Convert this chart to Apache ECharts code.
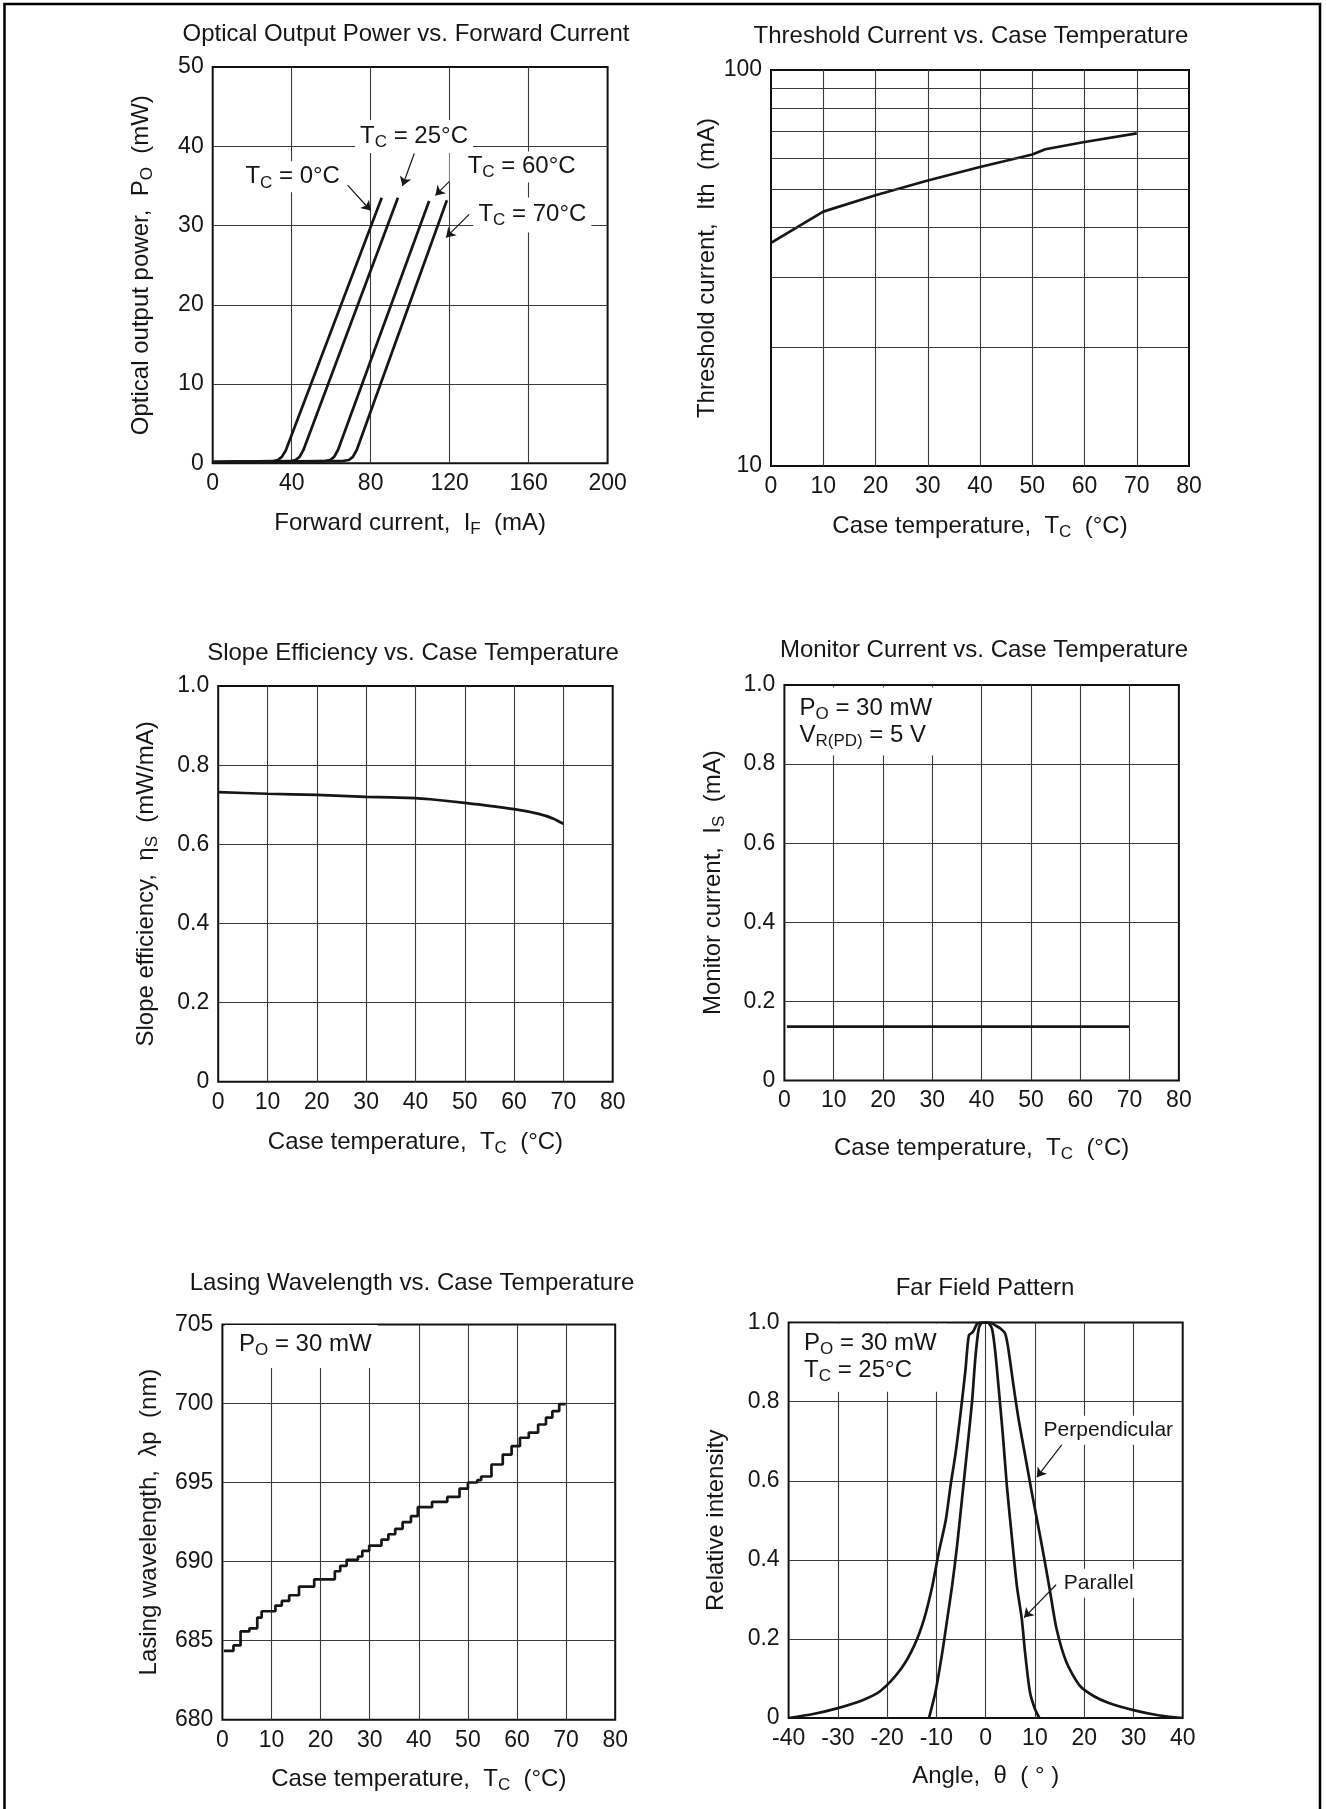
<!DOCTYPE html>
<html><head><meta charset="utf-8">
<script src="https://cdn.jsdelivr.net/npm/echarts@6/dist/echarts.min.js"></script>
<style>html,body{margin:0;padding:0;background:#fff}#c{width:1326px;height:1809px}</style>
</head><body><div id="c"></div>
<script>
// ---------- DATA ----------
// Chart 1: Optical output power (mW) vs forward current (mA)
const power0C  = [[0,0.15],[30,0.25],[33,0.4],[35,0.8],[37,1.6],[85.6,33.5]];
const power25C = [[0,0.15],[39,0.25],[42,0.4],[44,0.8],[46,1.7],[93.8,33.5]];
const power60C = [[0,0.15],[56,0.25],[59.5,0.4],[61.5,0.8],[63.5,1.7],[109.6,33.1]];
const power70C = [[0,0.15],[65,0.25],[69,0.4],[71,0.8],[73,1.7],[118.6,33.2]];
// Chart 2: Threshold current (mA) vs case temperature
const thresholdTemp    = [0,10,20,30,40,50,52.5,60,70];
const thresholdCurrent = [36.6,43.9,48.3,52.6,56.9,61.2,63.1,65.8,69.2];
const thresholdGridValues = [20,30,40,50,60,70,80,90];
// Chart 3: Slope efficiency vs case temperature
const slopeTemp = [0,10,20,30,40,43,50,60,65,68,70];
const slopeEff  = [0.732,0.728,0.725,0.72,0.717,0.714,0.705,0.689,0.677,0.665,0.652];
// Chart 4: Monitor current vs case temperature
const monitorTemp    = [0.5,69.9];
const monitorCurrent = [0.136,0.136];
// Chart 5: Lasing wavelength (step) vs case temperature
const waveTemp = [0.3,2.25,3.7,5.5,7.1,8.0,10.8,12.1,13.6,15.6,18.7,22.9,24.0,25.3,27.6,28.5,29.9,32.4,33.8,35.2,36.7,38.4,39.8,42.7,45.8,48.3,50.0,51.9,52.7,54.8,57.1,58.9,60.6,62.4,64.3,65.9,67.2,68.6,69.9];
const waveNm   = [684.35,684.70,685.59,685.78,686.46,686.86,687.22,687.51,687.87,688.42,688.88,689.39,689.73,690.11,690.32,690.68,691.01,691.39,691.73,692.07,692.49,692.87,693.44,693.78,694.09,694.62,695.0,695.15,695.38,696.14,696.77,697.30,697.83,698.16,698.67,699.11,699.51,699.96,699.96];
// Chart 6: Far field pattern
const perpAngle = [-40,-35,-30,-25,-21.3,-17.2,-14.5,-12.5,-10.8,-9.5,-8.1,-7.1,-6.1,-5.1,-4.1,-3.4,-2.6,-1.75,-1,0,0.95,1.95,3.0,3.97,4.6,5.66,6.67,8.0,9.3,10.6,11.8,13.1,14.4,16.4,19.1,22,25,30,35,40];
const perpIntensity = [0,0.01,0.025,0.045,0.069,0.124,0.183,0.25,0.335,0.42,0.5,0.59,0.67,0.77,0.88,0.968,0.976,0.997,1.0,1.0,1.0,0.993,0.985,0.972,0.934,0.84,0.757,0.665,0.575,0.49,0.41,0.318,0.225,0.141,0.082,0.055,0.038,0.02,0.007,0];
const parAngle = [-11.5,-10.2,-8.8,-7.8,-6.8,-5.8,-4.8,-3.8,-2.76,-2.1,-1.4,-0.7,0.4,1.28,1.95,2.6,3.5,4.3,5.3,6.33,7.34,8.0,9.0,10.0,10.9];
const parIntensity = [0,0.065,0.166,0.25,0.335,0.436,0.554,0.673,0.8,0.909,0.985,1.0,1.0,0.985,0.926,0.84,0.715,0.588,0.46,0.335,0.25,0.166,0.065,0.023,0];

// Titles
const chartTitles = [
  'Optical Output Power vs. Forward Current',
  'Threshold Current vs. Case Temperature',
  'Slope Efficiency vs. Case Temperature',
  'Monitor Current vs. Case Temperature',
  'Lasing Wavelength vs. Case Temperature',
  'Far Field Pattern'
];

// ---------- LAYOUT / STYLE ----------
const FONT = '"Liberation Sans", Arial, Helvetica, sans-serif';
const INK = '#161616';
const GRIDC = '#3a3a3a';
const grids = [
  {left:212.7, top:67.1, width:394.9, height:396.1},
  {left:771,   top:70,   width:418,   height:396.1},
  {left:218.2, top:686.1,width:394.5, height:395.7},
  {left:784.4, top:685,  width:394.5, height:395.4},
  {left:222.4, top:1324.4,width:392.8,height:395.3},
  {left:788.6, top:1322.6,width:394.1,height:395.4}
];
const titlePos = [[406,34],[971,36],[413,653],[984,650],[412,1283],[985,1288]];

const subRich = {s:{fontSize:17, fontFamily:FONT, color:INK, padding:[12,0,0,0]}};
const zip = (a,b) => a.map((v,i)=>[v,b[i]]);
const dec1 = v => v === 0 ? '0' : v.toFixed(1);

function xAxis(gi, min, max, interval, name, nameGap, extra) {
  return Object.assign({
    gridIndex: gi, type:'value', min, max, interval,
    name, nameLocation:'middle', nameGap,
    nameTextStyle:{fontSize:24, fontFamily:FONT, color:INK, rich:subRich},
    axisLine:{show:false}, axisTick:{show:false},
    axisLabel:{fontSize:23, fontFamily:FONT, color:INK, margin:9, showMinLabel:true, showMaxLabel:true},
    splitLine:{show:true, showMinLine:false, showMaxLine:false, lineStyle:{color:GRIDC, width:1.1}}
  }, extra||{});
}
function yAxis(gi, min, max, interval, name, nameGap, extra) {
  return Object.assign({
    gridIndex: gi, type:'value', min, max, interval,
    name, nameLocation:'middle', nameGap, nameRotate:90,
    nameTextStyle:{fontSize:24, fontFamily:FONT, color:INK, rich:subRich},
    axisLine:{show:false}, axisTick:{show:false},
    axisLabel:{fontSize:23, fontFamily:FONT, color:INK, margin:9, showMinLabel:true, showMaxLabel:true},
    splitLine:{show:true, showMinLine:false, showMaxLine:false, lineStyle:{color:GRIDC, width:1.1}}
  }, extra||{});
}
function lineSeries(gi, data, extra) {
  return Object.assign({
    type:'line', xAxisIndex:gi, yAxisIndex:gi, data, showSymbol:false, symbol:'none',
    lineStyle:{color:INK, width:2.7}, animation:false, silent:true, z:3
  }, extra||{});
}
function textMark(coord, text, pad, opts) {
  return {
    coord, symbol:'rect', symbolSize:1, itemStyle:{color:'rgba(0,0,0,0)'},
    label:Object.assign({
      show:true, position:'inside', formatter:text, color:INK,
      fontSize:24, fontFamily:FONT, backgroundColor:'#fff', padding:pad,
      lineHeight:27, rich:{s:{fontSize:17, fontFamily:FONT, color:INK, padding:[12,0,0,0], lineHeight:27}}
    }, opts||{})
  };
}
function arrows(list) {
  return {
    silent:true, symbol:['none','arrow'], symbolSize:9, animation:false,
    lineStyle:{color:INK, width:1.2, type:'solid'}, label:{show:false},
    data:list.map(a => [{coord:a[0]},{coord:a[1]}])
  };
}

const option = {
  backgroundColor:'#fff',
  animation:false,
  grid: grids.map(g => Object.assign({show:true, borderColor:'#111', borderWidth:2, backgroundColor:'rgba(0,0,0,0)', containLabel:false, outerBoundsMode:'none'}, g)),
  xAxis: [
    xAxis(0, 0, 200, 40, 'Forward current,  I{s|F}  (mA)', 46),
    xAxis(1, 0, 80, 10, 'Case temperature,  T{s|C}  (°C)', 46),
    xAxis(2, 0, 80, 10, 'Case temperature,  T{s|C}  (°C)', 46),
    xAxis(3, 0, 80, 10, 'Case temperature,  T{s|C}  (°C)', 53),
    xAxis(4, 0, 80, 10, 'Case temperature,  T{s|C}  (°C)', 45),
    xAxis(5, -40, 40, 10, 'Angle,  θ  ( ° )', 46)
  ],
  yAxis: [
    yAxis(0, 0, 50, 10, 'Optical output power,  P{s|O}  (mW)', 57),
    yAxis(1, 10, 100, null, 'Threshold current,  Ith  (mA)', 40, {type:'log', logBase:10, interval:undefined, splitLine:{show:false}}),
    yAxis(2, 0, 1, 0.2, 'Slope efficiency,  η{s|S}  (mW/mA)', 57, {axisLabel:{fontSize:23, fontFamily:FONT, color:INK, margin:9, formatter:dec1}}),
    yAxis(3, 0, 1, 0.2, 'Monitor current,  I{s|S}  (mA)', 57, {axisLabel:{fontSize:23, fontFamily:FONT, color:INK, margin:9, formatter:dec1}}),
    yAxis(4, 680, 705, 5, 'Lasing wavelength,  λp  (nm)', 61),
    yAxis(5, 0, 1, 0.2, 'Relative intensity', 60, {axisLabel:{fontSize:23, fontFamily:FONT, color:INK, margin:9, formatter:dec1}})
  ],
  series: [
    lineSeries(0, power0C, {
      markPoint:{silent:true, animation:false, data:[
        textMark([40.5,36.15], 'T{s|C} = 0°C', [2,3,2,3]),
        textMark([101.95,41.24], 'T{s|C} = 25°C', [3,5,3,5]),
        textMark([152.9,37.39], 'T{s|C} = 60°C', [1,4,3,18]),
        textMark([161.9,31.33], 'T{s|C} = 70°C', [3,5,5,5])
      ]},
      markLine: arrows([
        [[68.3,35.1],[80.0,31.9]],
        [[102.1,39.1],[96.1,35.0]],
        [[125.2,36.9],[112.8,33.8]],
        [[129.9,31.4],[118.2,28.5]]
      ])
    }),
    lineSeries(0, power25C),
    lineSeries(0, power60C),
    lineSeries(0, power70C),
    lineSeries(1, zip(thresholdTemp, thresholdCurrent), {
      markLine:{silent:true, symbol:['none','none'], animation:false, label:{show:false},
        lineStyle:{color:GRIDC, width:1.1, type:'solid'},
        data: thresholdGridValues.map(v => ({yAxis:v}))}
    }),
    lineSeries(2, zip(slopeTemp, slopeEff), {smooth:0.2}),
    lineSeries(3, zip(monitorTemp, monitorCurrent), {
      markPoint:{silent:true, animation:false, data:[
        textMark([0.32,0.908], 'P{s|O} = 30 mW\nV{s|R(PD)} = 5 V', [7,14,7,13], {align:'left', position:'right', distance:0})
      ]}
    }),
    lineSeries(4, zip(waveTemp, waveNm), {step:'end',
      markPoint:{silent:true, animation:false, data:[
        textMark([0.43,703.6], 'P{s|O} = 30 mW', [6,6,10,14], {align:'left', position:'right', distance:0})
      ]}
    }),
    lineSeries(5, zip(perpAngle, perpIntensity), {smooth:0.25,
      markPoint:{silent:true, animation:false, data:[
        textMark([-39.6,0.911], 'P{s|O} = 30 mW\nT{s|C} = 25°C', [6,10,8,13], {align:'left', position:'right', distance:0}),
        textMark([24.9,0.728], 'Perpendicular', [1,2,1,2], {fontSize:21}),
        textMark([22.96,0.341], 'Parallel', [1,2,1,2], {fontSize:21})
      ]},
      markLine: arrows([
        [[16.5,0.708],[10.4,0.609]],
        [[14.3,0.337],[7.8,0.254]]
      ])
    }),
    lineSeries(5, zip(parAngle, parIntensity), {smooth:0.25})
  ],
  graphic: [
    {type:'rect', z:100, silent:true, shape:{x:4.5, y:4, width:1315.5, height:1840},
      style:{fill:'none', stroke:'#000', lineWidth:2.5}},
    ...chartTitles.map((t,i) => ({
      type:'text', z:100, silent:true, x:titlePos[i][0], y:titlePos[i][1],
      style:{text:t, fontSize:24, fontFamily:FONT, fill:INK, align:'center', verticalAlign:'middle', textAlign:'center', textVerticalAlign:'middle'}
    }))
  ]
};

const chart = echarts.init(document.getElementById('c'), null, {renderer:'canvas'});
chart.setOption(option);
</script>
</body></html>
